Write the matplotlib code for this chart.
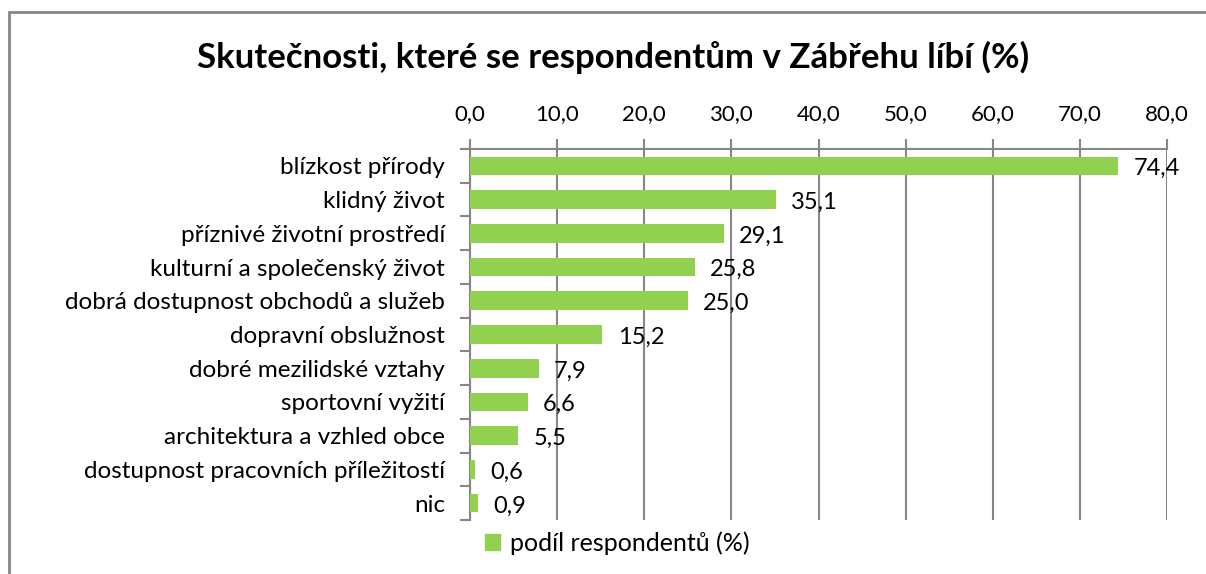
import matplotlib.pyplot as plt
from matplotlib.patches import Rectangle, Patch
import numpy as np

categories = ['blízkost přírody', 'klidný život', 'příznivé životní prostředí',
              'kulturní a společenský život', 'dobrá dostupnost obchodů a služeb',
              'dopravní obslužnost', 'dobré mezilidské vztahy', 'sportovní vyžití',
              'architektura a vzhled obce', 'dostupnost pracovních příležitostí', 'nic']
values = [74.4, 35.1, 29.1, 25.8, 25.0, 15.2, 7.9, 6.6, 5.5, 0.6, 0.9]
xticks = [0, 10, 20, 30, 40, 50, 60, 70, 80]

plt.rcParams['font.family'] = ['Lato', 'DejaVu Sans']
green = '#92D050'
grey = '#868686'

fig = plt.figure(figsize=(12.06, 5.74), dpi=100)
ax = fig.add_axes([470/1206, 1-520/574, 697/1206, 371/574])

y = np.arange(len(categories))
ax.barh(y, values, height=0.55, color=green, zorder=3)
ax.set_ylim(len(categories) - 0.5, -0.5)
ax.set_xlim(0, 80)

for yi, v in zip(y, values):
    ax.annotate(f'{v:.1f}'.replace('.', ','), (v, yi), xytext=(11, -2),
                textcoords='offset points', va='center', ha='left', fontsize=17, zorder=4)

ax.xaxis.tick_top()
ax.set_xticks(xticks)
ax.set_xticklabels([f'{t:.1f}'.replace('.', ',') for t in xticks], fontsize=16)
ax.tick_params(axis='x', length=7, width=1.5, color=grey, pad=11)
ax.grid(axis='x', color=grey, linewidth=1.5, zorder=1)

ax.set_yticks(y)
ax.set_yticklabels(categories, fontsize=17.5)
ax.set_yticks(np.arange(-0.5, len(categories)), minor=True)
ax.tick_params(axis='y', which='major', length=0, pad=18)
ax.tick_params(axis='y', which='minor', length=7, width=1.5, color=grey)

for s in ['right', 'bottom']:
    ax.spines[s].set_visible(False)
for s in ['top', 'left']:
    ax.spines[s].set_color(grey)
    ax.spines[s].set_linewidth(1.5)

fig.text(613/1206, 1-57/574, 'Skutečnosti, které se respondentům v Zábřehu líbí (%)',
         ha='center', va='center', fontsize=25, fontweight='bold')

fig.legend(handles=[Patch(color=green, label='podíl respondentů (%)')],
           loc='center', bbox_to_anchor=(617/1206, 1-543/574), frameon=False,
           fontsize=18, handlelength=0.6, handleheight=0.6, handletextpad=0.4)

fig.patches.append(Rectangle((9/1206, -0.1), 1.2, 1 - 12/574 + 0.1, transform=fig.transFigure,
                             fill=False, edgecolor=grey, linewidth=2))

fig.savefig('out.png', dpi=100)
